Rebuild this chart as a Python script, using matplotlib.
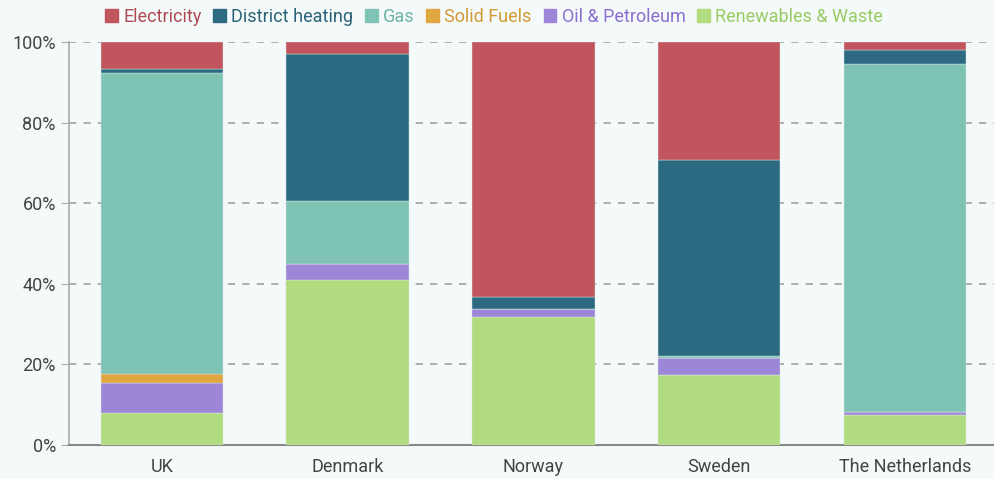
import matplotlib.pyplot as plt
import numpy as np
from matplotlib.ticker import PercentFormatter

plt.rcParams['font.family'] = ['Roboto', 'DejaVu Sans']

countries = ['UK', 'Denmark', 'Norway', 'Sweden', 'The Netherlands']
fuels = ['Electricity', 'District heating', 'Gas', 'Solid Fuels',
         'Oil & Petroleum', 'Renewables & Waste']
colors = ['#c0555e', '#2b6a80', '#7fc3b5', '#e0a640', '#9d86d8', '#b0dc7f']
text_colors = ['#b04a55', '#2b6276', '#6fb5a6', '#d49a35', '#8a6ed0', '#98cc62']

# shares in %, per country (same order as countries)
renewables = [7.9, 40.9, 31.8, 17.4, 7.4]
oil = [7.5, 4.0, 1.9, 4.2, 0.7]
solid = [2.3, 0.0, 0.0, 0.0, 0.0]
gas = [74.6, 15.6, 0.0, 0.5, 86.4]
district = [1.0, 36.5, 3.0, 48.6, 3.5]
electricity = [6.7, 3.0, 63.3, 29.3, 2.0]

bg = '#f4f9f9'
fig = plt.figure(figsize=(9.94, 4.79), dpi=100, facecolor=bg)
ax = fig.add_axes([0.0694, 0.071, 0.9306, 0.8413])
ax.set_facecolor(bg)

x = np.arange(len(countries))
stack = [renewables, oil, solid, gas, district, electricity]
stack_colors = colors[::-1]
bottom = np.zeros(len(countries))
for vals, c in zip(stack, stack_colors):
    ax.bar(x, vals, bottom=bottom, width=0.66, color=c,
           edgecolor='#dde8e8', linewidth=0.3, zorder=3)
    bottom += np.array(vals)

ax.set_xlim(-0.5, 4.48)
ax.set_ylim(0, 100)
ax.set_yticks(range(0, 101, 20))
ax.yaxis.set_major_formatter(PercentFormatter(decimals=0))
ax.set_xticks(x)
ax.set_xticklabels(countries)
ax.grid(axis='y', color='#a8a8a8', linestyle=(0, (4, 4)), linewidth=1.3, zorder=1)
for s in ['top', 'right']:
    ax.spines[s].set_visible(False)
ax.spines['left'].set_color('#aaaaaa')
ax.spines['left'].set_linewidth(1.2)
ax.spines['bottom'].set_color('#888888')
ax.spines['bottom'].set_linewidth(1.5)
ax.tick_params(axis='y', length=6, color='#aaaaaa', labelsize=13, labelcolor='#444444')
ax.tick_params(axis='x', length=0, labelsize=13, labelcolor='#444444', pad=9.5)

handles = [plt.Rectangle((0, 0), 1, 1, color=c) for c in colors]
leg = fig.legend(handles, fuels, loc='center', bbox_to_anchor=(0.497, 0.965),
                 ncol=6, frameon=False, fontsize=13, handlelength=0.7,
                 handleheight=0.7, handletextpad=0.3, columnspacing=0.65)
for t, c in zip(leg.get_texts(), text_colors):
    t.set_color(c)

fig.savefig('out.png', dpi=100, facecolor=bg)
